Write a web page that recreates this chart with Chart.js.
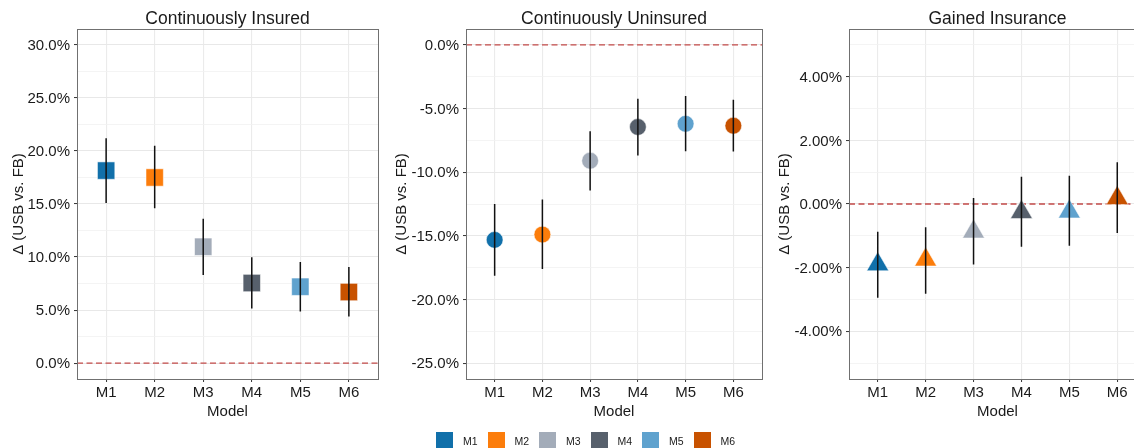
<!DOCTYPE html>
<html>
<head>
<meta charset="utf-8">
<script src="https://cdn.jsdelivr.net/npm/chart.js@4.4.1/dist/chart.umd.min.js"></script>
<style>
  html, body { margin: 0; padding: 0; background: #fff; }
  #figure { position: relative; width: 1134px; height: 448px; overflow: hidden; font-family: "Liberation Sans", Arial, sans-serif; }
  canvas { position: absolute; top: 0; }
  #legend { position: absolute; top: 432px; left: 436px; display: flex; }
  .item { display: flex; align-items: center; width: 51.5px; }
  .swatch { width: 17px; height: 17px; }
  .label { margin-left: 10px; font-size: 10.5px; color: #1a1a1a; }
</style>
</head>
<body>
<div id="figure">
  <canvas id="insuredChart" width="385" height="425" style="left:0px"></canvas>
  <canvas id="uninsuredChart" width="387" height="425" style="left:383px"></canvas>
  <canvas id="gainedChart" width="384" height="425" style="left:766px"></canvas>
  <div id="legend"></div>
</div>
<script>
const models = ["M1", "M2", "M3", "M4", "M5", "M6"]
const modelColors = ["#1170AA", "#FC7D0B", "#A3ACB9", "#57606C", "#5FA2CE", "#C85200"]

// point estimates and interval ends, in percent
const insuredEstimate = [18.15, 17.5, 10.97, 7.55, 7.2, 6.7]
const insuredLower = [15.1, 14.6, 8.3, 5.14, 4.86, 4.39]
const insuredUpper = [21.2, 20.5, 13.6, 9.97, 9.53, 9.06]

const uninsuredEstimate = [-15.32, -14.9, -9.1, -6.45, -6.2, -6.35]
const uninsuredLower = [-18.14, -17.6, -11.43, -8.69, -8.35, -8.38]
const uninsuredUpper = [-12.5, -12.14, -6.79, -4.23, -4.02, -4.31]

const gainedEstimate = [-1.9, -1.75, -0.87, -0.26, -0.24, 0.18]
const gainedLower = [-2.95, -2.82, -1.9, -1.34, -1.31, -0.91]
const gainedUpper = [-0.87, -0.73, 0.19, 0.86, 0.89, 1.31]

// tick values
const insuredTicks = [0, 5, 10, 15, 20, 25, 30]
const insuredMinorTicks = [2.5, 7.5, 12.5, 17.5, 22.5, 27.5]
const uninsuredTicks = [-25, -20, -15, -10, -5, 0]
const uninsuredMinorTicks = [-22.5, -17.5, -12.5, -7.5, -2.5]
const gainedTicks = [-4, -2, 0, 2, 4]
const gainedMinorTicks = [-5, -3, -1, 1, 3, 5]

const xMin = 0.4
const xMax = 6.6
const textColor = "#1a1a1a"

Chart.defaults.font.family = '"Liberation Sans", Arial, sans-serif'
Chart.defaults.color = textColor

const panelFrame = {
  id: "panelFrame",
  afterDraw(chart) {
    const { ctx, chartArea } = chart
    ctx.save()
    ctx.strokeStyle = "#707070"
    ctx.lineWidth = 1
    ctx.strokeRect(Math.round(chartArea.left) + 0.5, Math.round(chartArea.top) + 0.5,
      Math.round(chartArea.right - chartArea.left), Math.round(chartArea.bottom - chartArea.top))
    ctx.restore()
  }
}

function errorBarPoints(lower, upper) {
  const points = []
  lower.forEach((lo, i) => {
    points.push({ x: i + 1, y: lo }, { x: i + 1, y: upper[i] }, { x: i + 1, y: null })
  })
  return points
}

// no auto padding from tick labels, the plot box is fixed by layout.padding
function noScalePadding(scale) {
  scale.paddingLeft = 0
  scale.paddingRight = 0
  scale.paddingTop = 0
  scale.paddingBottom = 0
}

function renderPanel(id, opts) {
  const allTicks = [...opts.ticks, ...opts.minorTicks].sort((a, b) => a - b)
  const isMajor = (v) => opts.ticks.includes(v)

  return new Chart(document.getElementById(id), {
    type: "scatter",
    data: {
      datasets: [
        {
          type: "line",
          data: errorBarPoints(opts.lower, opts.upper),
          borderColor: "#111",
          borderWidth: 1.5,
          pointRadius: 0,
          spanGaps: false,
          showLine: true,
          order: 0
        },
        {
          type: "scatter",
          data: opts.estimate.map((y, i) => ({ x: i + 1, y })),
          pointStyle: opts.pointStyle,
          pointRadius: opts.radius,
          pointBackgroundColor: modelColors,
          pointBorderColor: "rgba(255,255,255,0.55)",
          pointBorderWidth: 1,
          order: 1
        },
        {
          type: "line",
          data: [{ x: xMin, y: 0 }, { x: xMax, y: 0 }],
          borderColor: "#C24A48",
          borderWidth: 1.3,
          borderDash: [6, 3.5],
          pointRadius: 0,
          showLine: true,
          order: 2
        }
      ]
    },
    options: {
      responsive: false,
      animation: false,
      events: [],
      layout: { autoPadding: false, padding: { right: opts.rightPad } },
      plugins: {
        legend: { display: false },
        tooltip: { enabled: false },
        title: {
          display: true,
          fullSize: false,
          text: opts.title,
          color: textColor,
          font: { size: 17.5, weight: "normal", lineHeight: 1 },
          padding: { top: 10.5, bottom: 1 }
        }
      },
      scales: {
        x: {
          type: "linear",
          min: xMin,
          max: xMax,
          afterBuildTicks: (axis) => { axis.ticks = models.map((m, i) => ({ value: i + 1 })) },
          afterFit: (scale) => { scale.height = 46; noScalePadding(scale) },
          ticks: {
            autoSkip: false,
            padding: 2,
            color: textColor,
            font: { size: 15 },
            callback: (value) => models[value - 1]
          },
          grid: { color: "#EBEBEB", lineWidth: 1.1, tickColor: "#333", tickLength: 3, tickWidth: 1 },
          border: { display: false },
          title: { display: true, text: "Model", color: textColor, font: { size: 15 }, padding: { top: 0, bottom: 4 } }
        },
        y: {
          min: opts.yMin,
          max: opts.yMax,
          afterBuildTicks: (axis) => { axis.ticks = allTicks.map((v) => ({ value: v })) },
          afterFit: (scale) => { scale.width = opts.yAxisWidth; noScalePadding(scale) },
          ticks: {
            autoSkip: false,
            padding: 4,
            labelOffset: 1,
            color: textColor,
            font: { size: 15 },
            callback: (value) => (isMajor(value) ? value.toFixed(opts.decimals) + "%" : "")
          },
          grid: {
            color: (ctx) => (isMajor(ctx.tick.value) ? "#E8E8E8" : "#F1F1F1"),
            lineWidth: (ctx) => (isMajor(ctx.tick.value) ? 1.1 : 0.8),
            tickColor: (ctx) => (isMajor(ctx.tick.value) ? "#333" : "rgba(0,0,0,0)"),
            tickLength: 3,
            tickWidth: 1
          },
          border: { display: false },
          title: { display: true, text: "Δ (USB vs. FB)", color: textColor, font: { size: 15 }, padding: { top: 9.5, bottom: 0 } }
        }
      }
    },
    plugins: [panelFrame]
  })
}

renderPanel("insuredChart", {
  title: "Continuously Insured",
  estimate: insuredEstimate, lower: insuredLower, upper: insuredUpper,
  ticks: insuredTicks, minorTicks: insuredMinorTicks,
  yMin: -1.5, yMax: 31.5, decimals: 1,
  pointStyle: "rect", radius: 12.3,
  yAxisWidth: 77, rightPad: 7
})

renderPanel("uninsuredChart", {
  title: "Continuously Uninsured",
  estimate: uninsuredEstimate, lower: uninsuredLower, upper: uninsuredUpper,
  ticks: uninsuredTicks, minorTicks: uninsuredMinorTicks,
  yMin: -26.25, yMax: 1.25, decimals: 1,
  pointStyle: "circle", radius: 8.4,
  yAxisWidth: 83, rightPad: 8
})

renderPanel("gainedChart", {
  title: "Gained Insurance",
  estimate: gainedEstimate, lower: gainedLower, upper: gainedUpper,
  ticks: gainedTicks, minorTicks: gainedMinorTicks,
  yMin: -5.5, yMax: 5.5, decimals: 2,
  pointStyle: "triangle", radius: 12.7,
  yAxisWidth: 83, rightPad: 4
})

const legend = document.getElementById("legend")
models.forEach((m, i) => {
  const item = document.createElement("div")
  item.className = "item"
  item.innerHTML = `<span class="swatch" style="background:${modelColors[i]}"></span><span class="label">${m}</span>`
  legend.appendChild(item)
})
</script>
</body>
</html>
